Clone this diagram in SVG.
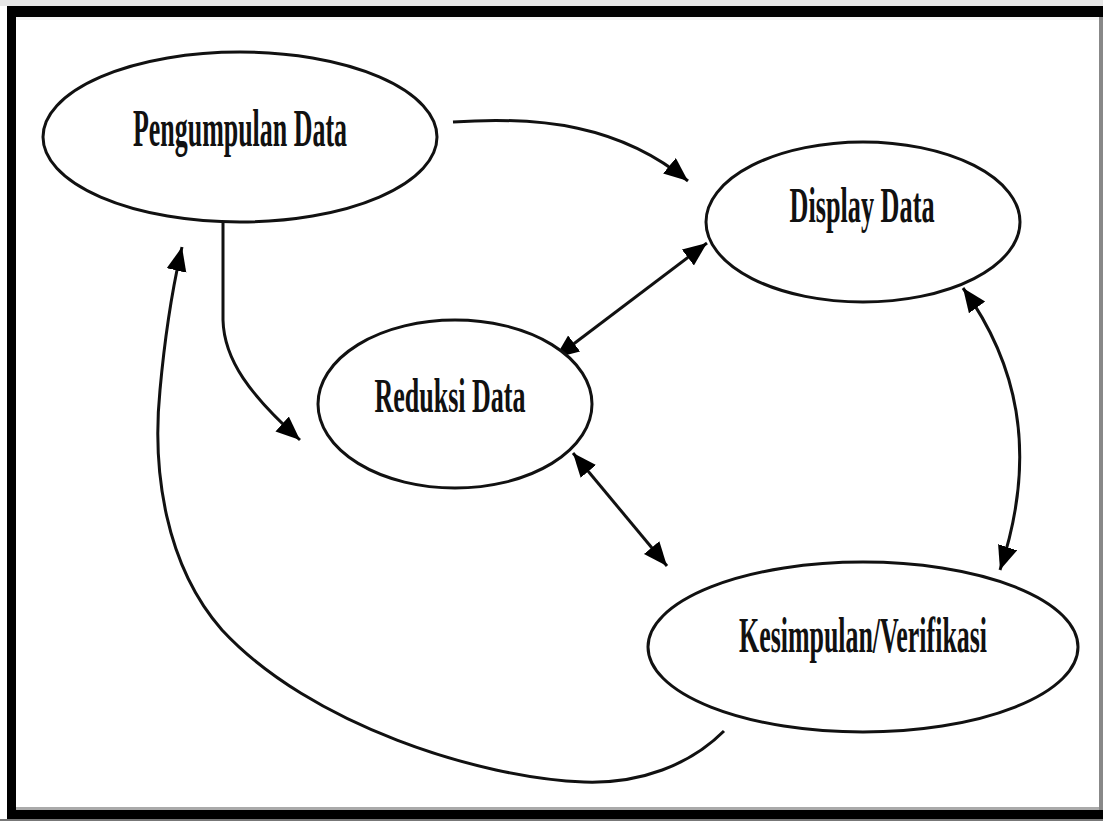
<svg xmlns="http://www.w3.org/2000/svg" width="1103" height="821" viewBox="0 0 1103 821">
<style>
.node ellipse{fill:#fff;stroke:#111;stroke-width:3}
.node text{font-family:"Liberation Serif","Times New Roman",serif;font-weight:bold;fill:#111;text-anchor:middle}
.conn path{fill:none;stroke:#111;stroke-width:3}
</style>
<defs>
<marker id="ah" markerUnits="userSpaceOnUse" markerWidth="26" markerHeight="22" refX="24" refY="10" orient="auto-start-reverse" viewBox="0 0 26 22">
<path d="M0,0 L24,10 L0,20 z" fill="#000"/>
</marker>
</defs>
<g id="frame">
<rect x="0" y="0" width="1103" height="821" fill="#fff"/>
<rect x="0" y="0" width="1103" height="6" fill="#e6e6e6"/>
<rect x="7" y="6" width="1096" height="11" fill="#000"/>
<rect x="7" y="6" width="9" height="815" fill="#000"/>
<rect x="7" y="810" width="1096" height="9" fill="#000"/>
<rect x="16" y="807" width="1083" height="3" fill="#aaa"/>
<rect x="1099" y="17" width="4" height="793" fill="#888"/>
<rect x="0" y="819" width="1103" height="2" fill="#777"/>
<rect x="16" y="17" width="1083" height="3" fill="#f4f4f4"/>
</g>
<g id="connectors" class="conn">
<path d="M453,122 C540,116 620,125 688,181" marker-end="url(#ah)"/>
<path d="M555,358 L707,243" marker-start="url(#ah)" marker-end="url(#ah)"/>
<path d="M573,453 L667,566" marker-start="url(#ah)" marker-end="url(#ah)"/>
<path d="M963,288 C1015,360 1040,450 1000,570" marker-start="url(#ah)" marker-end="url(#ah)"/>
<path d="M223,211 L223,320 C224,360 250,395 300,440" marker-end="url(#ah)"/>
<path d="M724,731 C690,765 640,784 584,782 C480,778 310,725 222,630 C165,565 152,470 160,390 C165,335 172,290 182,247" marker-end="url(#ah)"/>
</g>
<g id="node-pengumpulan" class="node">
<ellipse cx="240" cy="137" rx="197" ry="85"/>
<text transform="translate(240,146) scale(0.5,1)" x="0" y="0" font-size="53" textLength="428" lengthAdjust="spacingAndGlyphs">Pengumpulan Data</text>
</g>
<g id="node-display" class="node">
<ellipse cx="863" cy="222" rx="157" ry="80"/>
<text transform="translate(862,222) scale(0.5,1)" x="0" y="0" font-size="51" textLength="290" lengthAdjust="spacingAndGlyphs">Display Data</text>
</g>
<g id="node-reduksi" class="node">
<ellipse cx="455" cy="404" rx="137" ry="84"/>
<text transform="translate(450,412) scale(0.5,1)" x="0" y="0" font-size="48" textLength="302" lengthAdjust="spacingAndGlyphs">Reduksi Data</text>
</g>
<g id="node-kesimpulan" class="node">
<ellipse cx="863" cy="647" rx="215" ry="85"/>
<text transform="translate(863,652) scale(0.5,1)" x="0" y="0" font-size="51" textLength="496" lengthAdjust="spacingAndGlyphs">Kesimpulan/Verifikasi</text>
</g>
</svg>
